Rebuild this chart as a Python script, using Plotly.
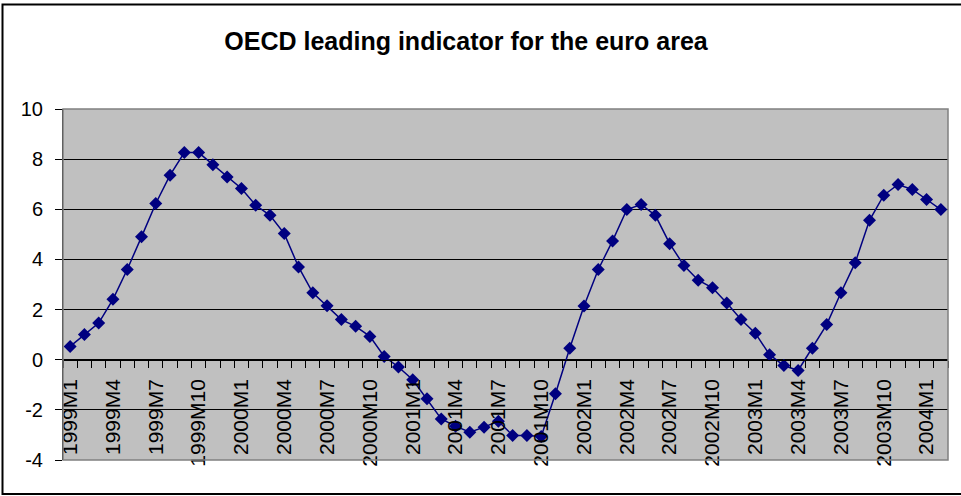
import plotly.graph_objects as go

years = [1999, 2000, 2001, 2002, 2003, 2004]
months = [f"{y}M{m}" for y in years for m in range(1, 13)][:62]

values = [0.53, 1.01, 1.46, 2.41, 3.60, 4.90, 6.23, 7.36, 8.26, 8.26, 7.78, 7.29,
          6.83, 6.16, 5.76, 5.03, 3.70, 2.67, 2.15, 1.60, 1.33, 0.93, 0.13, -0.29,
          -0.80, -1.56, -2.36, -2.65, -2.89, -2.69, -2.45, -3.02, -3.02, -3.06, -1.36, 0.46,
          2.14, 3.60, 4.74, 5.99, 6.19, 5.76, 4.63, 3.76, 3.17, 2.87, 2.26, 1.60,
          1.06, 0.20, -0.23, -0.43, 0.46, 1.40, 2.67, 3.87, 5.56, 6.56, 6.99, 6.79,
          6.39, 5.99]

tick_labels = [m if i % 3 == 0 else "" for i, m in enumerate(months)]
y_ticks = [-4, -2, 0, 2, 4, 6, 8, 10]
y_tick_text = [str(v) for v in y_ticks]
title = "OECD leading indicator for the euro area"

W, H = 961, 496
L, R, T, B = 63, 13, 109, 36
pw, ph = W - L - R, H - T - B

fig = go.Figure()
fig.add_trace(go.Scatter(
    x=months, y=values, mode="lines+markers",
    line=dict(color="#000080", width=1.5),
    marker=dict(symbol="diamond", size=10, color="#000080"),
    showlegend=False,
))

ymin, ymax = -4, 10
fig.update_layout(
    width=W, height=H,
    margin=dict(l=L, r=R, t=T, b=B),
    paper_bgcolor="white",
    plot_bgcolor="#C0C0C0",
    font=dict(family="Liberation Sans, Arial, sans-serif", color="black", size=20),
    title=dict(text="<b>" + title + "</b>", x=466 / W, xanchor="center",
               y=1 - 41 / H, yanchor="middle", xref="container", yref="container",
               font=dict(size=25, color="black")),
    xaxis=dict(
        type="category", categoryorder="array", categoryarray=months,
        tickvals=months, ticktext=tick_labels, tickangle=-90,
        tickson="boundaries", ticks="outside", ticklen=7, tickcolor="black",
        showgrid=False, showline=True, linecolor="black", linewidth=1,
        anchor="free", position=(0 - ymin) / (ymax - ymin),
        range=[-0.5, len(months) - 0.5], zeroline=False,
        tickfont=dict(size=21), ticklabelstandoff=10,
    ),
    yaxis=dict(
        range=[ymin, ymax], tickvals=y_ticks, ticktext=y_tick_text,
        ticks="outside", ticklen=7,
        tickcolor="black", showline=True, linecolor="black", linewidth=1,
        showgrid=True, gridcolor="black", gridwidth=1, zeroline=False,
        tickfont=dict(size=20), ticklabelstandoff=8,
    ),
)

# plot-area border (grey)
fig.add_shape(type="rect", xref="paper", yref="paper", x0=0, x1=1, y0=0, y1=1,
              line=dict(color="#808080", width=1.5), layer="above")
# outer chart frame
fig.add_shape(type="rect", xref="paper", yref="paper",
              x0=(2.5 - L) / pw, x1=(963 - L) / pw,
              y0=(H - B - 494) / ph, y1=(H - B - 4.5) / ph,
              line=dict(color="black", width=2))

fig.write_html(
    "out.html",
    config={"displayModeBar": False},
    post_script="document.body.style.margin='0';document.body.style.overflow='hidden';",
)
